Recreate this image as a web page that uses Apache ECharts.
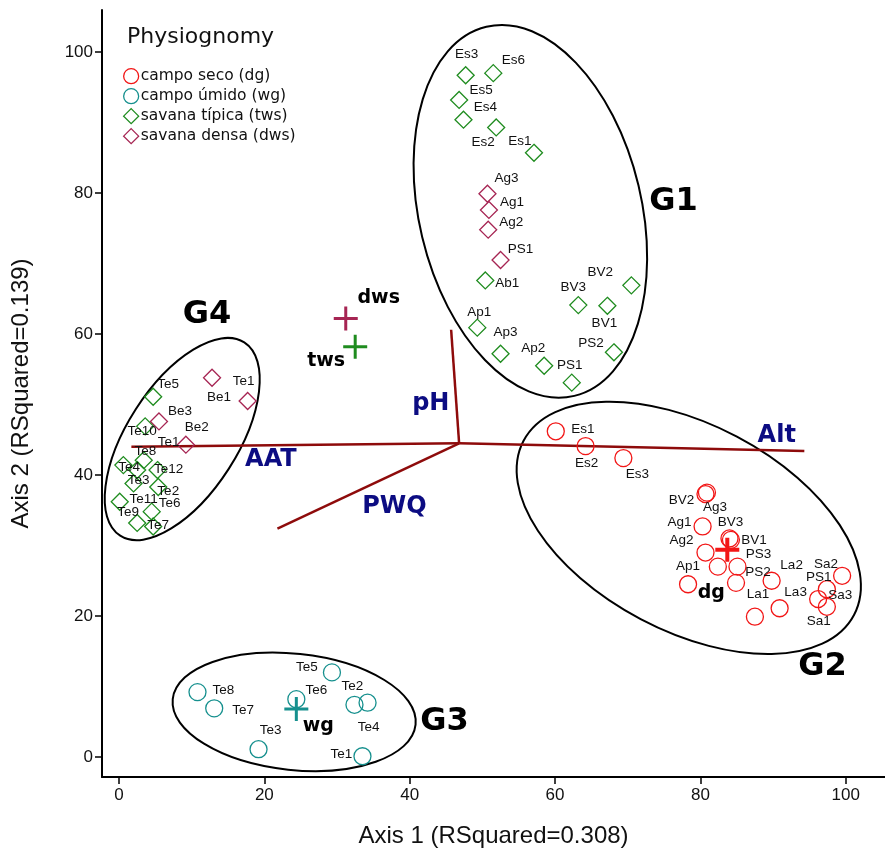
<!DOCTYPE html>
<html>
<head>
<meta charset="utf-8">
<script src="https://cdn.jsdelivr.net/npm/echarts@6/dist/echarts.min.js"></script>
<style>
  html, body { margin: 0; padding: 0; background: #fff; }
  #chart { width: 885px; height: 854px; }
</style>
</head>
<body>
<div id="chart"></div>
<script>
// ---- NMS site scores by physiognomy ----
// campo seco (dg)
const dgNames = ['Es1', 'Es2', 'Es3', 'BV2', 'Ag3', 'Ag1', 'BV3', 'BV1', 'Ag2', 'PS3', 'Ap1', 'PS2', '', 'La2', 'La3', 'La1', 'Sa2', 'PS1', 'Sa3', 'Sa1'];
const dgX = [60.1, 64.2, 69.4, 80.7, 80.9, 80.3, 84.0, 84.2, 80.7, 85.1, 78.3, 84.9, 82.4, 89.8, 90.9, 87.5, 99.5, 97.4, 96.2, 97.4];
const dgY = [46.2, 44.1, 42.4, 37.3, 37.5, 32.7, 31.0, 30.8, 29.0, 27.0, 24.5, 24.7, 27.0, 25.0, 21.1, 19.9, 25.7, 23.8, 22.4, 21.3];

// campo úmido (wg)
const wgNames = ['Te8', 'Te7', 'Te3', 'Te6', 'Te5', 'Te2', 'Te4', 'Te1'];
const wgX = [10.8, 13.1, 19.2, 24.4, 29.3, 32.4, 34.2, 33.5];
const wgY = [9.2, 6.9, 1.1, 8.2, 12.0, 7.4, 7.7, 0.1];

// savana típica (tws)
const twsNames = ['Es3', 'Es6', 'Es5', 'Es4', 'Es2', 'Es1', 'Ab1', 'BV2', 'BV3', 'BV1', 'Ap1', 'Ap3', 'Ap2', 'PS2', 'PS1',
                  'Te5', 'Te10', 'Te1', 'Te8', 'Te4', 'Te12', 'Te3', 'Te2', 'Te11', 'Te9', 'Te6', 'Te7'];
const twsX = [47.7, 51.5, 46.8, 47.4, 51.9, 57.1, 50.4, 70.5, 63.2, 67.2, 49.3, 52.5, 58.5, 68.1, 62.3,
              4.7, 3.6, 3.4, 0.6, 2.5, 5.3, 2.0, 5.4, 0.1, 2.5, 4.5, 4.7];
const twsY = [96.7, 97.0, 93.2, 90.4, 89.3, 85.7, 67.6, 66.9, 64.1, 64.0, 60.9, 57.2, 55.5, 57.4, 53.1,
              51.1, 46.9, 42.1, 41.4, 40.7, 40.7, 38.8, 38.3, 36.2, 33.2, 34.8, 32.7];

// savana densa (dws)
const dwsNames = ['Ag3', 'Ag1', 'Ag2', 'PS1', 'Be1', 'Te1', 'Be3', 'Be2'];
const dwsX = [50.7, 50.9, 50.8, 52.5, 12.8, 17.7, 5.5, 9.2];
const dwsY = [79.9, 77.6, 74.8, 70.5, 53.8, 50.5, 47.6, 44.3];

// group centroids
const centroidNames = ['dg', 'wg', 'tws', 'dws'];
const centroidX = [83.7, 24.4, 32.5, 31.2];
const centroidY = [29.4, 6.8, 58.2, 62.2];

// environmental vectors (joint plot)
const vectorOrigin = [46.8, 44.5];
const vectorNames = ['pH', 'PWQ', 'AAT', 'Alt'];
const vectorEndX = [45.7, 21.8, 1.7, 94.3];
const vectorEndY = [60.6, 32.4, 44.0, 43.4];
const vectorLabelX = [42.9, 37.9, 20.9, 90.5];
const vectorLabelY = [50.1, 35.5, 42.2, 45.6];

// group ellipses: centre, semi-axes (x-axis units), tilt (deg, clockwise on screen)
const groupNames = ['G1', 'G2', 'G3', 'G4'];
const ellipseCX = [56.6, 78.4, 24.1, 8.7];
const ellipseCY = [77.4, 32.5, 6.4, 45.1];
const ellipseA = [26.1, 25.7, 16.8, 15.8];
const ellipseB = [15.3, 14.2, 8.0, 7.6];
const ellipseTilt = [76.6, 27.8, 6, -57.3];
const groupLabelX = [76.3, 96.8, 44.8, 12.1];
const groupLabelY = [78.8, 12.8, 5.0, 62.7];

// axis ticks
const xTicks = [0, 20, 40, 60, 80, 100];
const yTicks = [0, 20, 40, 60, 80, 100];

// ---- label placement (pixel shifts from each marker) ----
const dgShift = [[27, -2], [1, 17], [14, 16], [-24, 6], [8, 15], [-23, -4], [1, -16], [23, 0], [-24, -12], [21, -12],
                 [0, -18], [22, -11], [0, 0], [20, -15], [16, -16], [3, -22], [-16, -12], [-8, -12], [22, -4], [-8, 14]];
const wgShift = [[26, -2], [29, 2], [12, -19], [20, -9], [-25, -5], [-2, -19], [1, 25], [-21, -2]];
const twsShift = [[1, -21], [20, -13], [22, -10], [22, -12], [-13, 15], [-14, -12], [22, 3], [-31, -13], [-5, -18], [-3, 17],
                  [2, -15], [5, -21], [-11, -17], [-23, -9], [-2, -17],
                  [15, -12], [-3, 5], [25, -18], [22, -14], [-8, -3], [11, -1], [5, -3], [10, 4], [24, -3], [-9, -11], [18, -8], [5, -1]];
const dwsShift = [[19, -15], [23, -8], [23, -7], [20, -11], [7, 20], [-4, -20], [21, -10], [11, -17]];
const centroidShift = [[-16, 43], [22, 17], [-29, 14], [33, -20]];

const COL = {
  dg: '#f21616',
  wg: '#16908e',
  tws: '#1f8c1f',
  dws: '#a62553',
  vec: '#8e0b0b',
  vecText: '#0c0c82'
};

function plus(t) {
  return 'path://M-' + t + ',-12 L' + t + ',-12 L' + t + ',-' + t + ' L12,-' + t + ' L12,' + t + ' L' + t + ',' + t +
         ' L' + t + ',12 L-' + t + ',12 L-' + t + ',' + t + ' L-12,' + t + ' L-12,-' + t + ' L-' + t + ',-' + t + ' Z';
}

function sites(names, xs, ys, shifts) {
  return names.map((n, i) => ({ name: n, value: [xs[i], ys[i]], label: { offset: shifts[i] } }));
}

const siteLabel = {
  show: true, position: 'inside', formatter: '{b}',
  color: '#111', fontSize: 13.5, fontFamily: 'Liberation Sans, Arial, sans-serif'
};

function siteSeries(name, symbol, color, data) {
  return {
    type: 'scatter', name: name, symbol: symbol, symbolSize: 17, z: 4,
    itemStyle: { color: 'transparent', borderColor: color, borderWidth: 1.3, opacity: 1 },
    label: siteLabel, data: data, emphasis: { disabled: true }
  };
}

function textSeries(data, style) {
  return {
    type: 'scatter', symbolSize: 1, z: 6, silent: true,
    itemStyle: { color: 'transparent', opacity: 1 },
    label: Object.assign({ show: true, position: 'inside', formatter: '{b}' }, style),
    data: data, emphasis: { disabled: true }
  };
}

const ellipseData = groupNames.map((g, i) => [ellipseCX[i], ellipseCY[i], ellipseA[i], ellipseB[i], ellipseTilt[i]]);

const vectorData = vectorNames.map((v, i) => ({ coords: [vectorOrigin, [vectorEndX[i], vectorEndY[i]]] }));

const centroidColors = [COL.dg, COL.wg, COL.tws, COL.dws];
const centroidData = centroidNames.map((n, i) => ({
  name: n, value: [centroidX[i], centroidY[i]],
  symbol: plus(i === 0 ? 2 : 1.5),
  itemStyle: { color: centroidColors[i], opacity: 1 },
  label: { offset: centroidShift[i] }
}));

const chart = echarts.init(document.getElementById('chart'), null, { renderer: 'canvas' });

chart.setOption({
  animation: false,
  backgroundColor: '#fff',
  title: {
    text: 'Physiognomy', left: 122, top: 21,
    textStyle: { fontSize: 22, fontWeight: 'normal', color: '#111', fontFamily: 'DejaVu Sans, Verdana, sans-serif' }
  },
  legend: {
    orient: 'vertical', left: 118, top: 63,
    itemWidth: 15, itemHeight: 15, itemGap: 3.7,
    selectedMode: false,
    data: ['campo seco (dg)', 'campo úmido (wg)', 'savana típica (tws)', 'savana densa (dws)'],
    itemStyle: { borderWidth: 1.3 },
    textStyle: { fontSize: 15.5, color: '#111', fontFamily: 'DejaVu Sans, Verdana, sans-serif', padding: [0, 0, 0, -3] }
  },
  grid: { left: 102, right: 0, top: 10, bottom: 77, containLabel: false },
  xAxis: {
    type: 'value', min: -2.34, max: 105.4,
    name: 'Axis 1 (RSquared=0.308)', nameLocation: 'middle', nameGap: 47,
    nameTextStyle: { fontSize: 24, color: '#111', fontFamily: 'Liberation Sans, Arial, sans-serif' },
    axisLine: { show: true, onZero: false, lineStyle: { color: '#000', width: 2 } },
    axisTick: { show: true, length: 7, customValues: xTicks, lineStyle: { color: '#000', width: 1.5 } },
    axisLabel: { customValues: xTicks, fontSize: 17, color: '#111', margin: 10, fontFamily: 'Liberation Sans, Arial, sans-serif' },
    splitLine: { show: false }
  },
  yAxis: {
    type: 'value', min: -2.84, max: 105.96,
    name: 'Axis 2 (RSquared=0.139)', nameLocation: 'middle', nameGap: 69,
    nameTextStyle: { fontSize: 24, color: '#111', fontFamily: 'Liberation Sans, Arial, sans-serif' },
    axisLine: { show: true, onZero: false, lineStyle: { color: '#000', width: 2 } },
    axisTick: { show: true, length: 7, customValues: yTicks, lineStyle: { color: '#000', width: 1.5 } },
    axisLabel: { customValues: yTicks, fontSize: 17, color: '#111', margin: 9, fontFamily: 'Liberation Sans, Arial, sans-serif' },
    splitLine: { show: false }
  },
  series: [
    {
      // group ellipses
      type: 'custom', z: 1, silent: true,
      encode: { x: 0, y: 1 },
      data: ellipseData,
      renderItem: function (params, api) {
        const c = api.coord([api.value(0), api.value(1)]);
        const rx = api.size([api.value(2), 0])[0];
        const ry = api.size([api.value(3), 0])[0];
        return {
          type: 'ellipse',
          x: c[0], y: c[1],
          rotation: -api.value(4) * Math.PI / 180,
          shape: { cx: 0, cy: 0, rx: rx, ry: ry },
          style: { fill: 'none', stroke: '#000', lineWidth: 2 }
        };
      }
    },
    {
      // environmental vectors
      type: 'lines', coordinateSystem: 'cartesian2d', z: 2, silent: true,
      lineStyle: { color: COL.vec, width: 2.5, opacity: 1 },
      data: vectorData
    },
    siteSeries('campo seco (dg)', 'circle', COL.dg, sites(dgNames, dgX, dgY, dgShift)),
    siteSeries('campo úmido (wg)', 'circle', COL.wg, sites(wgNames, wgX, wgY, wgShift)),
    siteSeries('savana típica (tws)', 'diamond', COL.tws, sites(twsNames, twsX, twsY, twsShift)),
    siteSeries('savana densa (dws)', 'diamond', COL.dws, sites(dwsNames, dwsX, dwsY, dwsShift)),
    {
      // centroids
      type: 'scatter', z: 5, symbolSize: 24, symbolKeepAspect: true,
      data: centroidData, emphasis: { disabled: true },
      label: { show: true, position: 'inside', formatter: '{b}', color: '#000', fontSize: 19, fontWeight: 'bold',
               fontFamily: 'DejaVu Sans, Verdana, sans-serif' }
    },
    textSeries(vectorNames.map((n, i) => ({ name: n, value: [vectorLabelX[i], vectorLabelY[i]] })),
      { color: COL.vecText, fontSize: 24, fontWeight: 'bold', fontFamily: 'DejaVu Sans, Verdana, sans-serif' }),
    textSeries(groupNames.map((n, i) => ({ name: n, value: [groupLabelX[i], groupLabelY[i]] })),
      { color: '#000', fontSize: 32, fontWeight: 'bold', fontFamily: 'DejaVu Sans, Verdana, sans-serif' })
  ]
});
</script>
</body>
</html>
